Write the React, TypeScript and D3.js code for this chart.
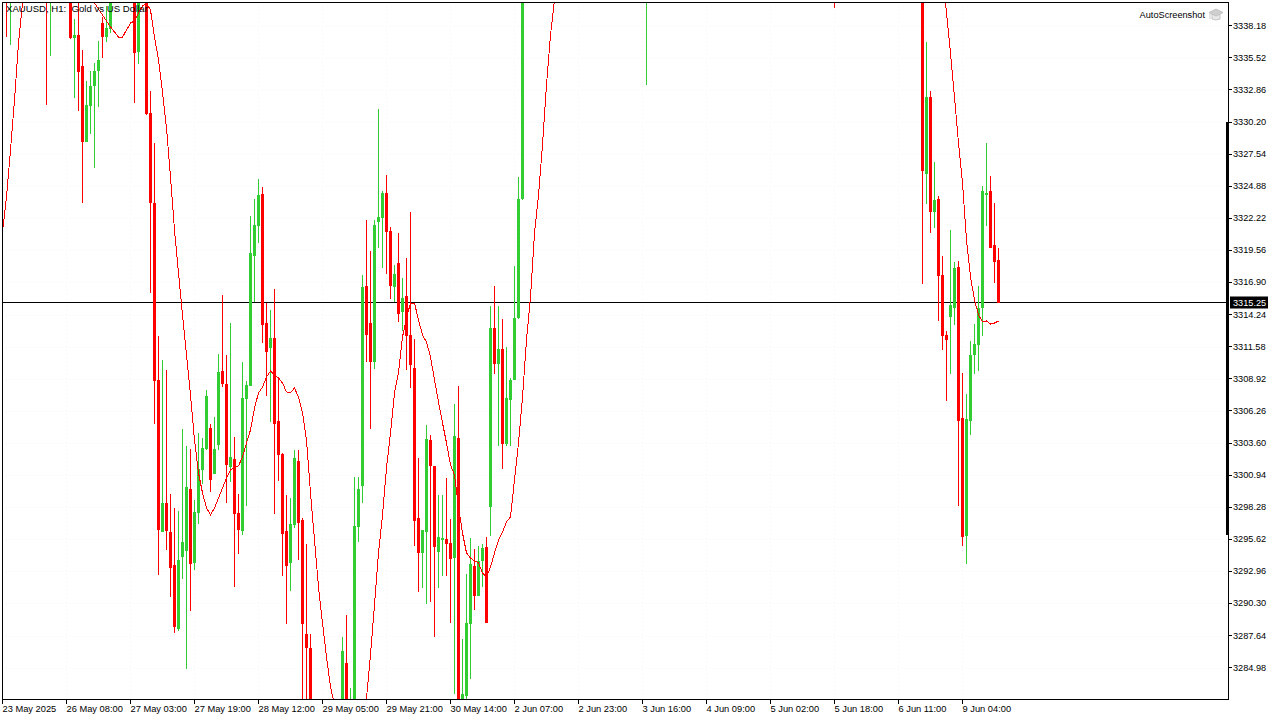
import { useEffect, useRef } from "react";
import * as d3 from "d3";

const WIDTH = 1280;
const HEIGHT = 720;
const FONT = "'Liberation Sans', Arial, sans-serif";

const UP_COLOR = "#32cd32";
const DOWN_COLOR = "#ff0000";

const priceTicks = [
  3338.18, 3335.52, 3332.86, 3330.2, 3327.54, 3324.88, 3322.22, 3319.56, 3316.9,
  3314.24, 3311.58, 3308.92, 3306.26, 3303.6, 3300.94, 3298.28, 3295.62, 3292.96,
  3290.3, 3287.64, 3284.98,
];
const lastPrice = 3315.25;

const timeLabels = [
  "23 May 2025", "26 May 08:00", "27 May 03:00", "27 May 19:00", "28 May 12:00",
  "29 May 05:00", "29 May 21:00", "30 May 14:00", "2 Jun 07:00", "2 Jun 23:00",
  "3 Jun 16:00", "4 Jun 09:00", "5 Jun 02:00", "5 Jun 18:00", "6 Jun 11:00",
  "9 Jun 04:00",
];
const barsPerLabel = 16;

// bars that can be seen in the window (position in the series), the rest sit off scale
const barIndex = [
  1, 2, 11, 12,
  17, 18, 19, 20, 21, 22, 23, 24, 25, 26, 27,
  33, 34,
  36, 37, 38, 39, 40, 41, 42, 43, 44, 45, 46, 47, 48, 49,
  50, 51, 52, 53, 54, 55, 56, 57, 58, 59,
  60, 61, 62, 63, 64, 65, 66, 67, 68, 69,
  70, 71, 72, 73, 74, 75, 76, 77,
  85, 86, 87, 88, 89,
  90, 91, 92, 93, 94, 95, 96, 97, 98, 99,
  100, 101, 102, 103, 104, 105, 106, 107, 108, 109,
  110, 111, 112, 113, 114, 115, 116, 117, 118, 119,
  120, 121, 122, 123, 124, 125, 126, 127, 128, 129,
  130, 161, 208,
  230, 231, 232, 233, 234, 235, 236, 237, 238, 239,
  240, 241, 242, 243, 244, 245, 246, 247, 248, 249,
];
const opens = [
  3343, 3341, 3343, 3341,
  3342, 3337.16, 3337.41, 3334.84, 3328.54, 3331.53, 3333.18, 3334.43, 3338.4, 3337.24, 3337.91,
  3342, 3336,
  3342, 3330.95, 3323.49, 3308.82, 3296.23, 3298.63, 3296.23, 3293.49, 3288.19, 3294.16, 3294.65, 3299.79, 3293.66, 3297.8,
  3301.37, 3303.11, 3304.84, 3301.03, 3303.44, 3309.57, 3308.49, 3301.61, 3302.28, 3297.8,
  3296.31, 3307.25, 3308.33, 3319.1, 3321.58, 3324.24, 3313.55, 3311.47, 3312.3, 3305.43,
  3302.69, 3296.31, 3293.66, 3296.81, 3302.11, 3297.22, 3287.78, 3286.62,
  3281, 3285.37, 3279, 3281, 3296.64,
  3300.04, 3316.61, 3313.55, 3310.31, 3321.91, 3322.25, 3324.32, 3321.17, 3316.53, 3318.52,
  3314.46, 3315.78, 3312.55, 3309.82, 3297.39, 3294.49, 3296.23, 3303.85, 3301.7, 3294.57,
  3295.56, 3295.65, 3295.32, 3294.07, 3304.02, 3280, 3282.64, 3288.6, 3293.41, 3290.92,
  3293.83, 3294.98, 3298.3, 3313.13, 3310.15, 3311.39, 3303.52, 3307.17, 3308.82, 3313.96,
  3323.82, 3342, 3344,
  3345, 3325.89, 3332.27, 3322.74, 3323.82, 3317.52, 3312.55, 3314.04, 3314.79, 3318.19,
  3305.67, 3295.9, 3305.43, 3310.89, 3311.72, 3314.79, 3324.15, 3324.48, 3320.01, 3318.77,
];
const highs = [
  3344, 3344, 3344, 3344,
  3344, 3338.74, 3341, 3336.17, 3333.6, 3334.43, 3335.09, 3336.91, 3338.9, 3339.81, 3342,
  3343, 3343,
  3343, 3332.77, 3328.46, 3312.47, 3310.48, 3309.65, 3299.38, 3298.22, 3297.97, 3304.76, 3303.35, 3303.11, 3298.88, 3304.43,
  3304.02, 3308, 3305.18, 3305.76, 3310.98, 3315.87, 3310.9, 3313.55, 3304.1, 3299.38,
  3310.31, 3308.74, 3322.41, 3323.82, 3325.48, 3324.81, 3315.2, 3314.62, 3316.36, 3309.07,
  3302.77, 3299.29, 3299.04, 3303.02, 3303.02, 3297.39, 3295.24, 3287.78,
  3287.53, 3289.35, 3283.3, 3300.79, 3300.79,
  3317.52, 3322.08, 3319.51, 3322.08, 3331.28, 3324.48, 3325.81, 3321.5, 3318.35, 3321,
  3317.27, 3318.93, 3322.74, 3312.22, 3302.36, 3296.39, 3305.09, 3304.27, 3301.7, 3299.29,
  3299.29, 3300.7, 3297.31, 3306.83, 3308.33, 3287.36, 3292.75, 3295.73, 3294.82, 3295.07,
  3295.24, 3295.81, 3314.95, 3316.61, 3314.95, 3313.88, 3311.56, 3308.99, 3318.27, 3325.64,
  3344, 3345, 3345,
  3346, 3336.83, 3332.77, 3326.89, 3324.07, 3319.1, 3312.88, 3321.25, 3318.6, 3318.68,
  3309.4, 3307.66, 3312.05, 3313.46, 3316.61, 3324.9, 3328.46, 3325.73, 3323.49, 3319.76,
];
const lows = [
  3337.24, 3336.58, 3331.61, 3335.67,
  3337.08, 3332.19, 3331.11, 3323.49, 3328.54, 3329.21, 3326.39, 3331.44, 3335.5, 3336.83, 3337.58,
  3331.78, 3335.01,
  3330.78, 3316.03, 3305.18, 3292.66, 3296.23, 3294.74, 3290.84, 3287.86, 3288.03, 3292.33, 3284.88, 3289.68, 3293.08, 3296.89,
  3300.2, 3303.02, 3299.54, 3301.03, 3303.02, 3308.24, 3298.63, 3300.37, 3291.67, 3294.41,
  3295.98, 3298.38, 3308.33, 3315.29, 3320.17, 3311.89, 3307.5, 3305.34, 3297.72, 3300.44,
  3292.58, 3288.6, 3291.34, 3296.56, 3293.91, 3280, 3280, 3280,
  3280, 3280, 3278, 3280, 3295.4,
  3298.63, 3310.31, 3304.76, 3309.74, 3319.76, 3318.1, 3317.61, 3315.53, 3315.29, 3313.63,
  3312.88, 3309.65, 3308.16, 3295.07, 3291.26, 3291.59, 3290.26, 3290.43, 3287.53, 3291.59,
  3292.58, 3292.58, 3288.69, 3282.8, 3280, 3279, 3281.5, 3284.05, 3289.76, 3290.92,
  3291.67, 3288.69, 3295.9, 3309.32, 3303.35, 3301.45, 3303.35, 3303.35, 3308.82, 3313.88,
  3323.74, 3333.27, 3339.65,
  3316.78, 3323.41, 3321, 3321.42, 3313.71, 3311.31, 3307.08, 3309.32, 3313.38, 3298.38,
  3295.07, 3293.58, 3304.27, 3309.32, 3309.57, 3312.47, 3321.58, 3319.76, 3316.86, 3315.2,
];
const closes = [
  3341, 3343, 3341, 3343,
  3337.16, 3337.41, 3334.34, 3328.54, 3331.61, 3333.18, 3334.43, 3335.34, 3337.24, 3337.99, 3341,
  3335.92, 3342,
  3330.86, 3323.49, 3308.74, 3296.39, 3298.63, 3296.31, 3293.24, 3288.36, 3293.91, 3295.4, 3299.96, 3293.58, 3297.89, 3301.45,
  3303.19, 3307.5, 3300.54, 3303.11, 3309.48, 3308.49, 3301.78, 3302.44, 3297.72, 3296.39,
  3307.33, 3308.41, 3319.35, 3321.67, 3324.15, 3313.38, 3311.14, 3312.3, 3305.18, 3302.61,
  3296.06, 3293.41, 3296.89, 3302.36, 3296.97, 3288.6, 3286.62, 3281,
  3286.37, 3281, 3281, 3296.72, 3299.79,
  3316.53, 3312.55, 3310.31, 3321.67, 3322.33, 3324.32, 3321.09, 3316.61, 3317.61, 3314.29,
  3315.62, 3312.47, 3310.07, 3297.14, 3294.49, 3296.39, 3303.93, 3301.7, 3294.98, 3295.81,
  3295.73, 3295.24, 3293.99, 3304.18, 3281, 3282.8, 3288.69, 3293.58, 3290.92, 3293.83,
  3294.9, 3288.69, 3313.13, 3310.15, 3311.39, 3303.52, 3307.33, 3308.82, 3313.96, 3323.82,
  3342, 3344, 3342,
  3326.14, 3332.27, 3322.74, 3323.74, 3317.44, 3312.47, 3312.14, 3315.04, 3318.1, 3305.43,
  3295.81, 3305.59, 3310.89, 3311.81, 3314.79, 3324.48, 3324.32, 3319.76, 3318.6, 3315.2,
];

// moving average, four stretches that stay on scale
const maStart1 = 0;
const maValues1 = [3321.09, 3323.99, 3327.88, 3332.02, 3336.75, 3340.06, 3343.6];
const maStart2 = 22;
const maValues2 = [
  3340.72, 3340.06, 3339.56, 3339.07, 3338.57, 3338.07, 3337.66, 3337.24, 3337.24, 3337.82,
  3338.4, 3338.57, 3339.23, 3339.81, 3340.06, 3339.48, 3337.24, 3335.34, 3332.69, 3329.7,
  3325.64, 3321.25, 3317.69, 3314.21, 3310.89, 3307.58, 3303.85, 3301.12, 3299.46, 3298.22,
  3297.64, 3298.22, 3299.04, 3299.87, 3300.7, 3301.37, 3301.61, 3301.7, 3302.44, 3303.6,
  3304.68, 3306.5, 3307.75, 3308.24, 3309.07, 3309.57, 3309.24, 3308.99, 3308.57, 3307.83,
  3307.75, 3308.16, 3307.41, 3306.09, 3303.85, 3299.46, 3295.56, 3291.67, 3288.69, 3285.87,
  3283.38, 3281.89,
];
const maStart3 = 90;
const maValues3 = [
  3280.65, 3282.47, 3286.04, 3290.18, 3294.49, 3297.64, 3301.53, 3304.43, 3307.75, 3309.48,
  3312.39, 3313.96, 3315.2, 3315.2, 3313.79, 3312.55, 3311.97, 3310.73, 3308.82, 3307,
  3305.26, 3303.6, 3301.78, 3300.95, 3298.3, 3296.15, 3294.49, 3294.07, 3293.83, 3293.66,
  3292.83, 3292.5, 3293.33, 3294.49, 3295.56, 3296.23, 3297.06, 3297.47, 3300.54, 3303.6,
  3307.41, 3312.14, 3315.7, 3321, 3324.15, 3328.3, 3333.27, 3337.41, 3340.31, 3342.8,
];
const maStart4 = 235;
const maValues4 = [
  3342.38, 3339.23, 3335.92, 3332.27, 3328.46, 3325.15, 3320.42, 3317.36, 3315.45, 3314.21,
  3313.63, 3313.71, 3313.46, 3313.54, 3313.71,
];

const plot = { left: 2, right: 1228, top: 2, bottom: 699 };

export default function App() {
  const svgRef = useRef<SVGSVGElement | null>(null);

  useEffect(() => {
    if (!svgRef.current) return;
    const svg = d3.select(svgRef.current);
    svg.selectAll("*").remove();

    const x = d3.scaleLinear().domain([0, 1]).range([2.5, 6.5]);
    const y = d3.scaleLinear().domain([3338.18, 3284.98]).range([25.7, 667.7]);

    svg
      .append("defs")
      .append("clipPath")
      .attr("id", "plot-clip")
      .append("rect")
      .attr("x", plot.left)
      .attr("y", plot.top)
      .attr("width", plot.right - plot.left)
      .attr("height", plot.bottom - plot.top);

    const timeTicks = timeLabels.map((_, i) => i * barsPerLabel);

    // Faint dotted grid
    const grid = svg.append("g").attr("stroke", "#f3f3f3").attr("stroke-dasharray", "1 3");
    grid
      .selectAll("line.h")
      .data(priceTicks)
      .enter()
      .append("line")
      .attr("class", "h")
      .attr("x1", plot.left)
      .attr("x2", plot.right)
      .attr("y1", (d) => Math.round(y(d)) + 0.5)
      .attr("y2", (d) => Math.round(y(d)) + 0.5);
    grid
      .selectAll("line.v")
      .data(timeTicks.slice(1))
      .enter()
      .append("line")
      .attr("class", "v")
      .attr("x1", (d) => x(d))
      .attr("x2", (d) => x(d))
      .attr("y1", plot.top)
      .attr("y2", plot.bottom);

    const chart = svg.append("g").attr("clip-path", "url(#plot-clip)");

    // Current price line sits under the candles
    chart
      .append("line")
      .attr("x1", plot.left)
      .attr("x2", plot.right)
      .attr("y1", Math.floor(y(lastPrice)) + 0.5)
      .attr("y2", Math.floor(y(lastPrice)) + 0.5)
      .attr("stroke", "#000");

    const candles = barIndex.map((bar, i) => ({
      bar,
      open: opens[i],
      high: highs[i],
      low: lows[i],
      close: closes[i],
    }));
    const color = (d: { open: number; close: number }) =>
      d.close >= d.open ? UP_COLOR : DOWN_COLOR;

    chart
      .selectAll("line.wick")
      .data(candles)
      .enter()
      .append("line")
      .attr("class", "wick")
      .attr("x1", (d) => x(d.bar))
      .attr("x2", (d) => x(d.bar))
      .attr("y1", (d) => y(d.high))
      .attr("y2", (d) => y(d.low))
      .attr("stroke", color)
      .attr("shape-rendering", "crispEdges");

    chart
      .selectAll("rect.body")
      .data(candles)
      .enter()
      .append("rect")
      .attr("class", "body")
      .attr("x", (d) => x(d.bar) - 1.5)
      .attr("width", 3)
      .attr("y", (d) => y(Math.max(d.open, d.close)))
      .attr("height", (d) => Math.max(1, Math.abs(y(d.open) - y(d.close))))
      .attr("fill", color)
      .attr("shape-rendering", "crispEdges");

    // Moving average
    const maLine = d3
      .line<{ bar: number; value: number }>()
      .x((d) => x(d.bar))
      .y((d) => y(d.value));
    const maSegments = [
      { start: maStart1, values: maValues1 },
      { start: maStart2, values: maValues2 },
      { start: maStart3, values: maValues3 },
      { start: maStart4, values: maValues4 },
    ];
    chart
      .selectAll("path.ma")
      .data(maSegments)
      .enter()
      .append("path")
      .attr("class", "ma")
      .attr("d", (s) => maLine(s.values.map((value, i) => ({ bar: s.start + i, value }))))
      .attr("fill", "none")
      .attr("stroke", DOWN_COLOR)
      .attr("stroke-width", 1)
      .attr("shape-rendering", "crispEdges");

    // Frame
    svg
      .append("path")
      .attr("d", `M${plot.left + 0.5},${plot.bottom + 0.5}V${plot.top + 0.5}H${plot.right + 0.5}V${plot.bottom + 0.5}H${plot.left + 0.5}`)
      .attr("fill", "none")
      .attr("stroke", "#000")
      .attr("shape-rendering", "crispEdges");
    svg
      .append("rect")
      .attr("x", plot.right - 2)
      .attr("y", 122)
      .attr("width", 3)
      .attr("height", 413)
      .attr("fill", "#000");

    // Price axis
    const priceAxis = svg
      .append("g")
      .attr("transform", `translate(${plot.right + 1},0)`)
      .call(
        d3
          .axisRight(y)
          .offset(0)
          .tickValues(priceTicks)
          .tickSize(3)
          .tickPadding(1)
          .tickFormat((v) => d3.format(".2f")(Number(v)))
      );
    priceAxis.select(".domain").remove();
    priceAxis.selectAll("line").attr("shape-rendering", "crispEdges").attr("stroke", "#000");
    priceAxis
      .selectAll("text")
      .attr("font-family", FONT)
      .attr("font-size", 9.2)
      .attr("fill", "#000");

    // Last price tag
    svg
      .append("rect")
      .attr("x", 1230)
      .attr("y", Math.floor(y(lastPrice)) - 5.5)
      .attr("width", 38)
      .attr("height", 12)
      .attr("fill", "#000");
    svg
      .append("text")
      .attr("x", 1233)
      .attr("y", Math.floor(y(lastPrice)) + 4)
      .attr("font-family", FONT)
      .attr("font-size", 9.2)
      .attr("fill", "#fff")
      .text(lastPrice.toFixed(2));

    // Time axis
    const timeAxis = svg
      .append("g")
      .attr("transform", `translate(0,${plot.bottom + 1})`)
      .call(
        d3
          .axisBottom(x)
          .offset(0)
          .tickValues(timeTicks)
          .tickSize(4)
          .tickPadding(1)
          .tickFormat((_, i) => timeLabels[i])
      );
    timeAxis.select(".domain").remove();
    timeAxis.selectAll("line").attr("shape-rendering", "crispEdges").attr("stroke", "#000");
    timeAxis
      .selectAll("text")
      .attr("font-family", FONT)
      .attr("font-size", 9.3)
      .attr("fill", "#000")
      .attr("text-anchor", "start");

    // Chart caption and the script's label
    svg
      .append("text")
      .attr("x", 6)
      .attr("y", 12)
      .attr("font-family", FONT)
      .attr("font-size", 9.6)
      .style("white-space", "pre")
      .attr("fill", "#000")
      .text("XAUUSD, H1:  Gold vs US Dollar");
    svg
      .append("text")
      .attr("x", 1205)
      .attr("y", 18)
      .attr("text-anchor", "end")
      .attr("font-family", FONT)
      .attr("font-size", 9.2)
      .attr("fill", "#000")
      .text("AutoScreenshot");
    const cap = svg.append("g").attr("fill", "#cfcfcf").attr("stroke", "#b5b5b5").attr("stroke-width", 0.7);
    cap.append("path").attr("d", "M1212,14V19Q1216,21 1220,19V14Z").attr("fill", "#e8e8e8");
    cap.append("path").attr("d", "M1209,12.5L1216,9L1223,12.5L1216,16Z");
    cap.append("path").attr("d", "M1210,13.5V19").attr("fill", "none");
  }, []);

  return (
    <svg
      ref={svgRef}
      width={WIDTH}
      height={HEIGHT}
      style={{ position: "fixed", left: 0, top: 0, background: "#fff" }}
    />
  );
}
